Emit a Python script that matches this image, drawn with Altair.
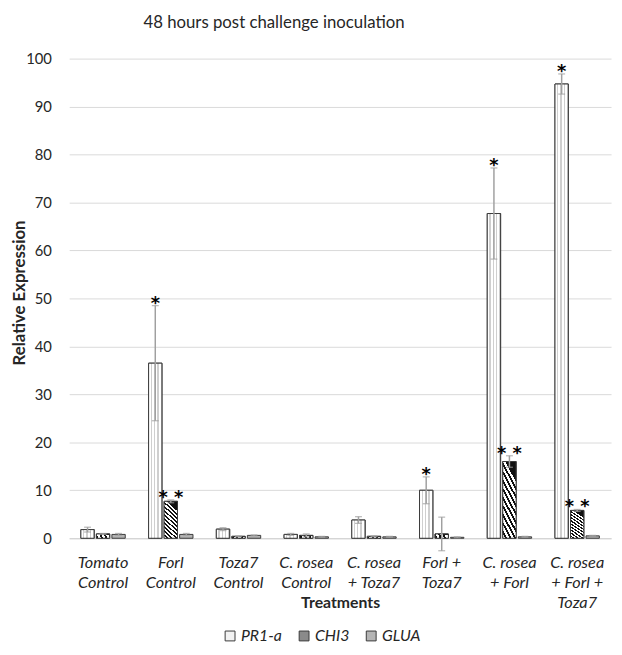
import altair as alt
import pandas as pd

groups = ["Tomato|Control", "Forl|Control", "Toza7|Control", "C. rosea|Control",
          "C. rosea|+ Toza7", "Forl +|Toza7", "C. rosea|+ Forl", "C. rosea|+ Forl +|Toza7"]
series_names = ["PR1-a", "CHI3", "GLUA"]

pr1a = [1.8, 36.5, 1.9, 0.8, 3.8, 10.0, 67.7, 94.7]
pr1a_err = [0.5, 12.0, 0.3, 0.2, 0.7, 2.8, 9.5, 2.1]
chi3 = [0.9, 7.7, 0.4, 0.6, 0.4, 0.9, 16.0, 5.8]
chi3_err = [0.1, 0.3, 0.1, 0.3, 0.1, 3.5, 1.2, 0.2]
glua = [0.8, 0.8, 0.6, 0.3, 0.3, 0.2, 0.3, 0.5]
glua_err = [0.2, 0.2, 0.1, 0.1, 0.1, 0.1, 0.1, 0.1]
pr1a_sig = ["", "*", "", "", "", "*", "*", "*"]
chi3_sig = ["", "* *", "", "", "", "", "* *", "* *"]
glua_sig = ["", "", "", "", "", "", "", ""]

rows = []
for s, vals, errs, sigs in [("PR1-a", pr1a, pr1a_err, pr1a_sig),
                            ("CHI3", chi3, chi3_err, chi3_sig),
                            ("GLUA", glua, glua_err, glua_sig)]:
    for g, v, e, sg in zip(groups, vals, errs, sigs):
        rows.append({"group": g, "series": s, "value": v, "err": e, "sig": sg})
df = pd.DataFrame(rows)

FONT = "Lato"
TXT = "#262626"
STROKE = "#3a3a3a"


def stripes(n, c1, c2, frac, x1, y1, x2, y2):
    stops = []
    for i in range(n):
        a = i / n
        b = (i + frac) / n
        stops += [{"offset": a, "color": c1}, {"offset": b, "color": c1},
                  {"offset": b, "color": c2}, {"offset": (i + 1) / n, "color": c2}]
    return {"gradient": "linear", "x1": x1, "y1": y1, "x2": x2, "y2": y2, "stops": stops}


dots_fill = stripes(4, "#ffffff", "#cfcfcf", 0.6, 0, 0, 1, 0)
hatch_fill = stripes(10, "#111111", "#ffffff", 0.45, 0.33, 0, 0, 1)

xenc = alt.X("group:N", sort=groups, title="Treatments",
             scale=alt.Scale(paddingInner=0.345, paddingOuter=0.1725),
             axis=alt.Axis(labelExpr="split(datum.label, '|')", labelAngle=0,
                           labelFontStyle="italic", labelFontSize=16.5, labelFont=FONT,
                           labelColor=TXT, labelPadding=17, labelLineHeight=20,
                           domainColor="#d0d0d0", ticks=False,
                           titleFont=FONT, titleFontSize=16, titleFontWeight="bold",
                           titleColor=TXT, titleY=65, titleBaseline="middle"))
xoff = alt.XOffset("series:N", sort=series_names,
                   scale=alt.Scale(paddingInner=0.14, paddingOuter=0))
yenc = alt.Y("value:Q", title="Relative Expression",
             scale=alt.Scale(domain=[0, 100], nice=False),
             axis=alt.Axis(values=list(range(0, 101, 10)), domain=False, ticks=False,
                           gridColor="#d9d9d9", labelFontSize=15, labelFont=FONT,
                           labelColor=TXT, labelPadding=18,
                           titleFont=FONT, titleFontSize=17, titleFontWeight="bold",
                           titleColor=TXT, titleX=-50, titleY=237, titleAngle=-90,
                           titleAlign="center", titleBaseline="middle"))

base = alt.Chart(df)

bars = base.mark_bar(stroke=STROKE, strokeWidth=1).encode(
    x=xenc, xOffset=xoff, y=yenc,
    color=alt.Color("series:N", sort=series_names,
                    scale=alt.Scale(domain=series_names,
                                    range=["#f2f2f2", "#8a8a8a", "#b4b4b4"]),
                    legend=alt.Legend(title=None, orient="none", direction="horizontal",
                                      legendX=155, legendY=577,
                                      symbolType="square", symbolSize=100,
                                      symbolStrokeColor=STROKE, symbolStrokeWidth=1,
                                      labelFont=FONT, labelFontSize=16,
                                      labelFontStyle="italic", labelColor=TXT,
                                      columnPadding=14, labelOffset=3)))

pr_over = base.transform_filter(alt.datum.series == "PR1-a").mark_bar(
    fill=dots_fill, stroke=STROKE, strokeWidth=1).encode(
    x=xenc, xOffset=xoff, y=yenc)
chi_over = base.transform_filter(alt.datum.series == "CHI3").mark_bar(
    fill=hatch_fill, stroke=STROKE, strokeWidth=1).encode(
    x=xenc, xOffset=xoff, y=yenc)

eb = base.transform_calculate(lo="datum.value - datum.err", hi="datum.value + datum.err")
err_rule = eb.mark_rule(color="#a0a0a0", strokeWidth=1.5).encode(
    x=xenc, xOffset=xoff, y="lo:Q", y2="hi:Q")
cap_top = eb.mark_tick(color="#a0a0a0", thickness=1.3, size=7).encode(
    x=xenc, xOffset=xoff, y="hi:Q")
cap_bot = eb.mark_tick(color="#a0a0a0", thickness=1.3, size=7).encode(
    x=xenc, xOffset=xoff, y="lo:Q")
sig_txt = eb.mark_text(font="DejaVu Sans", fontSize=18, fontWeight="bold", color="#000000",
                       baseline="middle", dy=-2).encode(
    x=xenc, xOffset=xoff, y="hi:Q", text="sig:N")

chart = alt.layer(bars, pr_over, chi_over, err_rule, cap_top, cap_bot, sig_txt).properties(
    width=549, height=486,
    padding={"left": 62, "top": 47, "right": 3, "bottom": 112},
    autosize="none",
    title=alt.Title("48 hours post challenge inoculation", font=FONT, fontSize=17,
                    fontWeight="normal", color=TXT, anchor="middle", dx=-67, offset=20),
).configure_view(stroke=None)

chart.save("out.html", embed_options={"renderer": "svg", "actions": False})
